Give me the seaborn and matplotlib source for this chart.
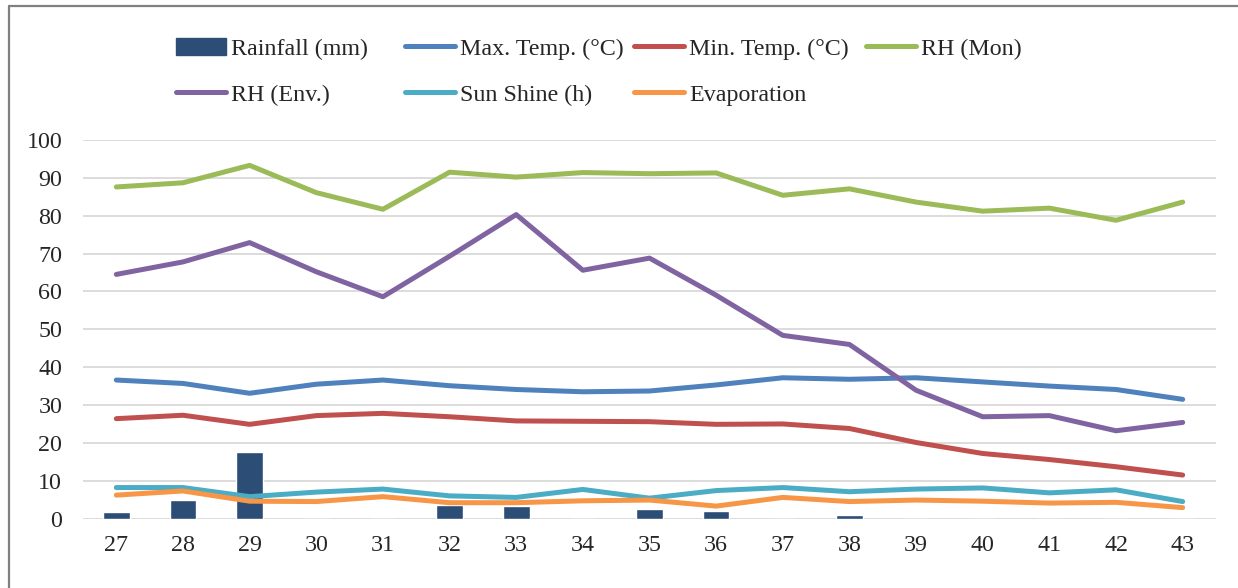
import numpy as np
import pandas as pd
import matplotlib
matplotlib.use("Agg")
import matplotlib.pyplot as plt
import seaborn as sns
from matplotlib.lines import Line2D
from matplotlib.patches import Patch

weeks = [27, 28, 29, 30, 31, 32, 33, 34, 35, 36, 37, 38, 39, 40, 41, 42, 43]
rainfall = [1.8, 4.9, 17.6, 0, 0, 3.5, 3.4, 0, 2.5, 2.0, 0, 0.9, 0, 0, 0, 0, 0]
max_temp = [36.6, 35.7, 33.1, 35.5, 36.6, 35.1, 34.1, 33.5, 33.7, 35.3, 37.2, 36.8, 37.2, 36.1, 35.0, 34.1, 31.5]
min_temp = [26.4, 27.3, 24.9, 27.2, 27.8, 26.9, 25.8, 25.7, 25.6, 24.9, 25.0, 23.8, 20.1, 17.2, 15.6, 13.7, 11.5]
rh_mon = [87.6, 88.7, 93.3, 86.1, 81.7, 91.5, 90.2, 91.4, 91.1, 91.3, 85.4, 87.1, 83.6, 81.2, 82.0, 78.8, 83.6]
rh_env = [64.5, 67.8, 72.9, 65.2, 58.6, 69.3, 80.3, 65.6, 68.8, 59.0, 48.4, 46.0, 33.9, 26.9, 27.2, 23.2, 25.4]
sunshine = [8.2, 8.2, 5.8, 7.0, 7.8, 6.0, 5.6, 7.7, 5.4, 7.4, 8.2, 7.1, 7.8, 8.1, 6.8, 7.6, 4.5]
evaporation = [6.2, 7.3, 4.6, 4.5, 5.8, 4.2, 4.2, 4.7, 4.9, 3.3, 5.6, 4.5, 4.9, 4.6, 4.1, 4.3, 2.9]

series_names = ["Max. Temp. (°C)", "Min. Temp. (°C)", "RH (Mon)", "RH (Env.)", "Sun Shine (h)", "Evaporation"]
series_values = [max_temp, min_temp, rh_mon, rh_env, sunshine, evaporation]
series_colors = ["#4F81BD", "#C0504D", "#9BBB59", "#8064A2", "#4BACC6", "#F79646"]
rain_label = "Rainfall (mm)"
rain_color = "#2C4D75"
yticks = [0, 10, 20, 30, 40, 50, 60, 70, 80, 90, 100]

sns.set_style("white")
plt.rcParams["font.family"] = ["Liberation Serif", "DejaVu Serif"]

FS = 17.3

fig = plt.figure(figsize=(12.38, 5.88), dpi=100)
ax = fig.add_axes([83 / 1238, 1 - 518.6 / 588, (1216 - 83) / 1238, (518.6 - 140) / 588])

df_rain = pd.DataFrame({"week": weeks, "rain": rainfall})
sns.barplot(data=df_rain, x="week", y="rain", native_scale=True, width=0.4,
            color=rain_color, saturation=1, ax=ax, zorder=2)

df_long = pd.concat([pd.DataFrame({"week": weeks, "value": v, "series": n})
                     for n, v in zip(series_names, series_values)], ignore_index=True)
for n, c in zip(series_names, series_colors):
    sub = df_long[df_long["series"] == n]
    sns.lineplot(data=sub, x="week", y="value", color=c, linewidth=3.6, ax=ax,
                 legend=False, sort=False, solid_capstyle="round",
                 solid_joinstyle="round", zorder=3)

ax.set_xlim(weeks[0] - 0.5, weeks[-1] + 0.5)
ax.set_ylim(0, 100)
ax.set_yticks(yticks)
ax.set_xticks(weeks)
ax.set_xticklabels([str(w) for w in weeks])
ax.set_xlabel("")
ax.set_ylabel("")
ax.grid(axis="y", color="#D9D9D9", linewidth=1.3, zorder=0)
ax.grid(axis="x", visible=False)
ax.set_axisbelow(True)
for s in ax.spines.values():
    s.set_visible(False)
ax.tick_params(axis="y", length=0, pad=15, labelsize=FS)
ax.tick_params(axis="x", length=0, pad=12, labelsize=FS)

# legend, arranged in four columns like the original
h = {n: Line2D([], [], color=c, lw=3.6, solid_capstyle="round") for n, c in zip(series_names, series_colors)}
h[rain_label] = Patch(facecolor=rain_color, edgecolor=rain_color)
columns = [[rain_label, "RH (Env.)"], ["Max. Temp. (°C)", "Sun Shine (h)"],
           ["Min. Temp. (°C)", "Evaporation"], ["RH (Mon)"]]
col_x = [176, 405, 634, 866]
for cols, x in zip(columns, col_x):
    fig.legend([h[n] for n in cols], cols, loc="upper left",
               bbox_to_anchor=(x / 1238, 1 - 38 / 588), frameon=False,
               borderpad=0, borderaxespad=0, handlelength=2.1, handletextpad=0.2,
               labelspacing=1.0, fontsize=FS)

fig.add_artist(Line2D([8.5 / 1238, 8.5 / 1238], [0, 1 - 6 / 588], transform=fig.transFigure,
                      color="#808080", lw=1.6))
fig.add_artist(Line2D([8.5 / 1238, 1], [1 - 6 / 588, 1 - 6 / 588], transform=fig.transFigure,
                      color="#808080", lw=1.6))

fig.savefig("out.png", dpi=100)
